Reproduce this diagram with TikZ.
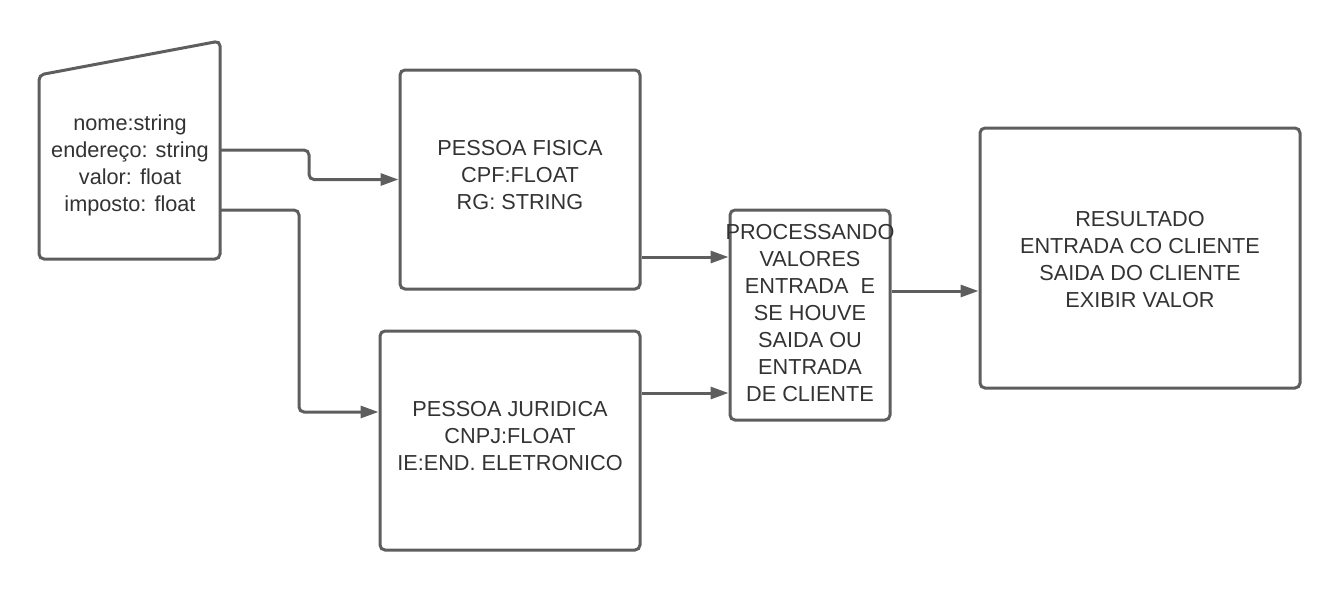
\documentclass[tikz,border=0pt]{standalone}
\usepackage{fontspec}
\setmainfont{Liberation Sans}
\usetikzlibrary{arrows.meta}
\definecolor{ln}{HTML}{5E5E5E}
\definecolor{tx}{HTML}{333333}
\tikzset{
  boxshape/.style={draw=ln, line width=3pt, rounded corners=5pt, rectangle, inner sep=0pt},
  txt/.style={text=tx, align=center, font=\fontsize{21.7}{27}\selectfont, inner sep=0pt},
  arr/.style={draw=ln, line width=3pt, rounded corners=5pt, -{Triangle[length=18pt,width=12pt]}}
}
\begin{document}
\begin{tikzpicture}[x=1pt,y=-1pt]
\useasboundingbox (0,0) rectangle (1340,590);
% manual input shape
\draw[draw=ln, line width=3pt, rounded corners=5pt, fill=white] (39,75) -- (220,41) -- (220,259) -- (39,259) -- cycle;
\node[txt] (inT) at (130,165) {nome:string\\endereço: string\\valor: float\\imposto: float};
\coordinate (in1) at (220,150);
\coordinate (in2) at (220,210);
% boxes
\node[boxshape, minimum width=240pt, minimum height=219pt] (pf) at (520,179.5) {};
\node[txt] (pfT) at (520,175.5) {PESSOA FISICA\\CPF:FLOAT\\RG: STRING};
\node[boxshape, minimum width=260pt, minimum height=219pt] (pj) at (510,440.5) {};
\node[txt] (pjT) at (510,436) {PESSOA JURIDICA\\CNPJ:FLOAT\\IE:END. ELETRONICO};
\node[boxshape, minimum width=160pt, minimum height=210pt] (proc) at (810,315) {};
\node[txt] (procT) at (810,313) {PROCESSANDO\\VALORES\\ENTRADA\ \ E\\SE HOUVE\\SAIDA OU\\ENTRADA\\DE CLIENTE};
\node[boxshape, minimum width=320pt, minimum height=260pt] (res) at (1140,258) {};
\node[txt] (resT) at (1140,259.5) {RESULTADO\\ENTRADA CO CLIENTE\\SAIDA DO CLIENTE\\EXIBIR VALOR};
% connectors
\draw[arr] (in1) -- (309,150) |- (pf.west);
\draw[arr] (in2) -- (299,210) |- ([yshift=28.5pt]pj.west);
\draw[arr] (pf.east |- 0,257) -- (proc.west |- 0,257);
\draw[arr] (pj.east |- 0,393) -- (proc.west |- 0,393);
\draw[arr] (proc.east |- 0,291) -- (res.west |- 0,291);
\end{tikzpicture}
\end{document}
